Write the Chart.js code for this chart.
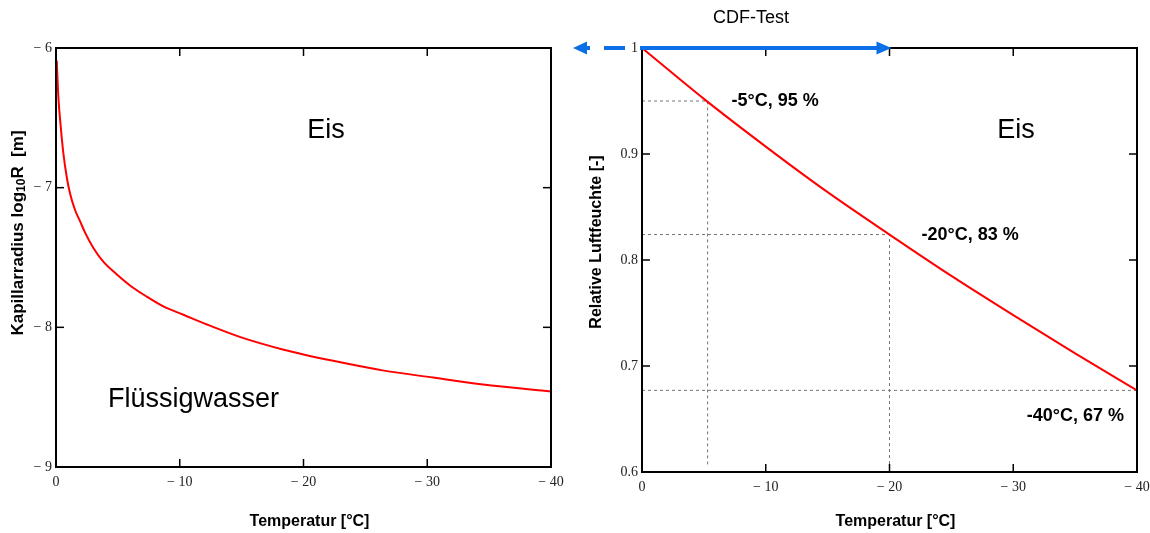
<!DOCTYPE html>
<html>
<head>
<meta charset="utf-8">
<script src="https://cdn.jsdelivr.net/npm/chart.js@4.4.1/dist/chart.umd.min.js"></script>
<style>
  body { margin: 0; background: #fff; width: 1150px; height: 533px; position: relative; overflow: hidden; }
  #radius-chart { position: absolute; left: 0; top: 0; }
  #humidity-chart { position: absolute; left: 565px; top: 0; }
</style>
</head>
<body>
<canvas id="radius-chart" width="575" height="533"></canvas>
<canvas id="humidity-chart" width="585" height="533"></canvas>
<script>
// left chart: capillary radius over temperature
const radiusTemps = [-0.06, -0.19, -0.38, -0.59, -0.86, -1.13, -1.54, -1.94, -2.34, -3.01, -3.82, -4.9, -5.98, -7.33, -8.67, -10.3, -12.2, -14.9, -18.4, -22.4, -26.5, -30.5, -34.5, -40];
const logRadius = [-6.09, -6.35, -6.56, -6.75, -6.92, -7.04, -7.16, -7.24, -7.32, -7.43, -7.53, -7.62, -7.70, -7.78, -7.85, -7.91, -7.98, -8.07, -8.16, -8.24, -8.31, -8.36, -8.41, -8.46];
const radiusTicks = [-9, -8, -7, -6];

// right chart: relative humidity over temperature
const humidityTemps = [0, -5, -10, -15, -20, -25, -30, -35, -40];
const humidity = [1.0, 0.952, 0.907, 0.864, 0.824, 0.785, 0.748, 0.712, 0.677];
const humidityTicks = [0.6, 0.7, 0.8, 0.9, 1];

const tempTicks = [-40, -30, -20, -10, 0];

// dashed helper lines and their labels
const guideTemps = [-5.3, -20, -40];
const guideHumidity = [0.95, 0.824, 0.677];
const guideLabels = ['-5°C, 95 %', '-20°C, 83 %', '-40°C, 67 %'];
const cdfRange = [0, -20];

const sans = "'Liberation Sans', Arial, sans-serif";
const serif = "'Liberation Serif', 'Times New Roman', serif";

const minusFmt = v => v < 0 ? '\u2212 ' + Math.abs(v) : String(v);

function line(ctx, x1, y1, x2, y2) {
    ctx.beginPath();
    ctx.moveTo(x1, y1);
    ctx.lineTo(x2, y2);
    ctx.stroke();
}

// frame around plot area with inward tick marks on all four sides
const frame = {
    id: 'frame',
    afterDatasetsDraw(chart) {
        const { ctx, chartArea: a, scales: { x, y } } = chart;
        ctx.save();
        ctx.strokeStyle = '#000';
        ctx.lineWidth = 2;
        ctx.strokeRect(a.left, a.top, a.right - a.left, a.bottom - a.top);
        ctx.lineWidth = 1.5;
        x.ticks.forEach(t => {
            const px = x.getPixelForValue(t.value);
            if (px < a.left + 2 || px > a.right - 2) return;
            line(ctx, px, a.bottom, px, a.bottom - 8);
            line(ctx, px, a.top, px, a.top + 8);
        });
        y.ticks.forEach(t => {
            const py = y.getPixelForValue(t.value);
            if (py < a.top + 2 || py > a.bottom - 2) return;
            line(ctx, a.left, py, a.left + 8, py);
            line(ctx, a.right, py, a.right - 8, py);
        });
        ctx.restore();
    }
};

function tempAxis(height) {
    return {
        type: 'linear',
        min: -40,
        max: 0,
        reverse: true,
        afterFit(s) { s.height = height; },
        afterBuildTicks(s) { s.ticks = tempTicks.map(v => ({ value: v })); },
        grid: { display: false, drawTicks: false },
        border: { display: false },
        ticks: {
            padding: 7,
            color: '#222',
            maxRotation: 0,
            autoSkip: false,
            font: { family: serif, size: 14 },
            callback: minusFmt
        }
    };
}

document.addEventListener("DOMContentLoaded", () => {
    const radiusChart = document.getElementById('radius-chart');
    new Chart(radiusChart, {
        type: 'line',
        data: {
            datasets: [
                {
                    data: radiusTemps.map((t, i) => ({ x: t, y: logRadius[i] })),
                    borderColor: '#ff0000',
                    borderWidth: 2,
                    pointRadius: 0,
                    cubicInterpolationMode: 'monotone'
                }
            ]
        },
        options: {
            responsive: false,
            animation: false,
            devicePixelRatio: 1,
            layout: { padding: { top: 48, right: 24, left: 0, bottom: 0 }, autoPadding: false },
            plugins: { legend: { display: false }, tooltip: { enabled: false } },
            scales: {
                x: tempAxis(66),
                y: {
                    min: -9,
                    max: -6,
                    afterFit(s) { s.width = 56; },
                    afterBuildTicks(s) { s.ticks = radiusTicks.map(v => ({ value: v })); },
                    grid: { display: false, drawTicks: false },
                    border: { display: false },
                    ticks: {
                        padding: 4,
                        color: '#222',
                        font: { family: serif, size: 14 },
                        callback: minusFmt
                    }
                }
            }
        },
        plugins: [frame, {
            id: 'radiusText',
            afterDraw(chart) {
                const { ctx, chartArea: a } = chart;
                ctx.save();
                ctx.fillStyle = '#000';
                ctx.textBaseline = 'middle';
                ctx.font = '27px ' + sans;
                ctx.textAlign = 'center';
                ctx.fillText('Eis', 326, 131);
                ctx.textAlign = 'left';
                ctx.fillText('Flüssigwasser', 108, 400);

                ctx.font = 'bold 16px ' + sans;
                ctx.textAlign = 'center';
                ctx.fillText('Temperatur [°C]', (a.left + a.right) / 2 + 6, 522);

                // rotated y title with subscript
                const parts = [['Kapillarradius log', 17, 0], ['10', 12, 4], ['R  [m]', 17, 0]];
                let total = 0;
                parts.forEach(p => { ctx.font = 'bold ' + p[1] + 'px ' + sans; total += ctx.measureText(p[0]).width; });
                ctx.translate(18, 233);
                ctx.rotate(-Math.PI / 2);
                ctx.textAlign = 'left';
                let cx = -total / 2;
                parts.forEach(p => {
                    ctx.font = 'bold ' + p[1] + 'px ' + sans;
                    ctx.fillText(p[0], cx, p[2]);
                    cx += ctx.measureText(p[0]).width;
                });
                ctx.restore();
            }
        }]
    });

    const guideSets = guideTemps.map((t, i) => ({
        data: i < 2
            ? [{ x: 0, y: guideHumidity[i] }, { x: t, y: guideHumidity[i] }, { x: t, y: 0.607 }]
            : [{ x: 0, y: guideHumidity[i] }, { x: t, y: guideHumidity[i] }],
        borderColor: '#777',
        borderWidth: 1,
        borderDash: [3, 3],
        pointRadius: 0,
        order: 2
    }));

    const humidityChart = document.getElementById('humidity-chart');
    new Chart(humidityChart, {
        type: 'line',
        data: {
            datasets: [
                {
                    data: humidityTemps.map((t, i) => ({ x: t, y: humidity[i] })),
                    borderColor: '#ff0000',
                    borderWidth: 2,
                    pointRadius: 0,
                    cubicInterpolationMode: 'monotone',
                    order: 1
                },
                ...guideSets
            ]
        },
        options: {
            responsive: false,
            animation: false,
            devicePixelRatio: 1,
            layout: { padding: { top: 48, right: 13, left: 0, bottom: 0 }, autoPadding: false },
            plugins: { legend: { display: false }, tooltip: { enabled: false } },
            scales: {
                x: tempAxis(61),
                y: {
                    min: 0.6,
                    max: 1,
                    afterFit(s) { s.width = 77; },
                    afterBuildTicks(s) { s.ticks = humidityTicks.map(v => ({ value: v })); },
                    grid: { display: false, drawTicks: false },
                    border: { display: false },
                    ticks: {
                        padding: 4,
                        color: '#222',
                        font: { family: serif, size: 14 },
                        callback: v => String(Number(v.toFixed(1)))
                    }
                }
            }
        },
        plugins: [frame, {
            id: 'humidityText',
            afterDraw(chart) {
                const { ctx, chartArea: a, scales: { x, y } } = chart;
                ctx.save();
                ctx.fillStyle = '#000';
                ctx.textBaseline = 'middle';

                ctx.font = '27px ' + sans;
                ctx.textAlign = 'center';
                ctx.fillText('Eis', 451, 131);

                ctx.font = '18px ' + sans;
                ctx.fillText('CDF-Test', 186, 18);

                ctx.font = 'bold 16px ' + sans;
                ctx.fillText('Temperatur [°C]', (a.left + a.right) / 2 + 6, 522);

                ctx.save();
                ctx.translate(32, 242);
                ctx.rotate(-Math.PI / 2);
                ctx.fillText('Relative Luftfeuchte [-]', 0, 0);
                ctx.restore();

                ctx.font = 'bold 18px ' + sans;
                ctx.textAlign = 'left';
                ctx.fillText(guideLabels[0], x.getPixelForValue(guideTemps[0]) + 24, y.getPixelForValue(guideHumidity[0]));
                ctx.fillText(guideLabels[1], x.getPixelForValue(guideTemps[1]) + 32, y.getPixelForValue(guideHumidity[1]));
                ctx.textAlign = 'right';
                ctx.fillText(guideLabels[2], a.right - 13, y.getPixelForValue(guideHumidity[2]) + 26);

                // blue CDF arrow along the top edge
                const py = y.getPixelForValue(1);
                const x0 = x.getPixelForValue(cdfRange[0]);
                const x1 = x.getPixelForValue(cdfRange[1]);
                ctx.strokeStyle = '#0b6fe8';
                ctx.fillStyle = '#0b6fe8';
                ctx.lineWidth = 4;
                line(ctx, x0 - 2, py, x1 - 10, py);
                line(ctx, x0 - 38, py, x0 - 17, py);
                line(ctx, x0 - 58, py, x0 - 52, py);
                ctx.beginPath();
                ctx.moveTo(x1 + 2, py);
                ctx.lineTo(x1 - 13, py - 6.5);
                ctx.lineTo(x1 - 13, py + 6.5);
                ctx.closePath();
                ctx.fill();
                ctx.beginPath();
                ctx.moveTo(x0 - 69, py);
                ctx.lineTo(x0 - 55, py - 6.5);
                ctx.lineTo(x0 - 55, py + 6.5);
                ctx.closePath();
                ctx.fill();
                ctx.restore();
            }
        }]
    });
})
</script>
</body>
</html>
